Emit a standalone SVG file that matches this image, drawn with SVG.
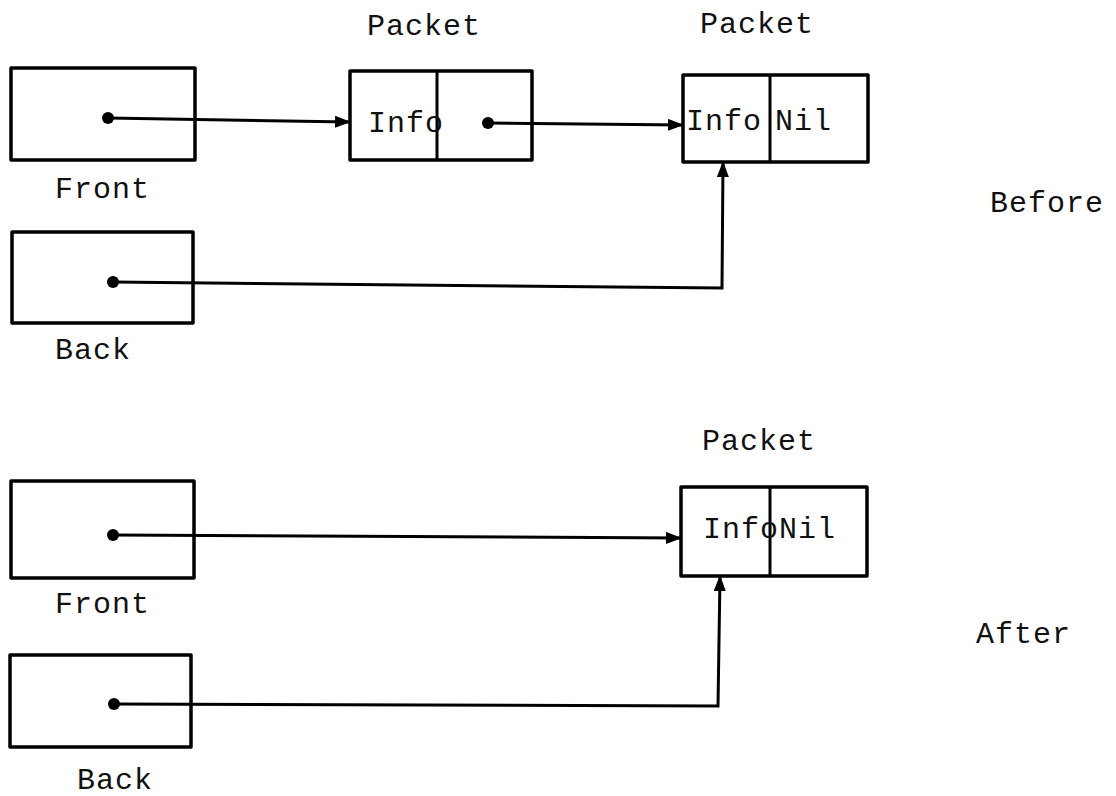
<svg xmlns="http://www.w3.org/2000/svg" width="1116" height="796" viewBox="0 0 1116 796">
  <style>
    .box { fill: none; stroke: #000; stroke-width: 3.5; stroke-linejoin: round; }
    .div { fill: none; stroke: #000; stroke-width: 3; }
    .link { fill: none; stroke: #000; stroke-width: 3; stroke-linejoin: miter; }
    .dot { fill: #000; }
    .lbl { font-family: "Liberation Mono", "Courier New", monospace; font-size: 30px; fill: #111; letter-spacing: 1px; }
  </style>
  <defs>
    <marker id="arrow" viewBox="0 0 16 12" refX="15" refY="6" markerWidth="16" markerHeight="12" markerUnits="userSpaceOnUse" orient="auto">
      <path d="M0,0 L16,6 L0,12 Z" fill="#000"/>
    </marker>
  </defs>

  <rect width="1116" height="796" fill="#fff"/>

  <!-- Before: queue with two packets -->
  <g id="before-front">
    <rect class="box" x="11" y="68" width="184" height="92"/>
    <circle class="dot" cx="108" cy="118" r="6"/>
    <text class="lbl" x="55" y="198">Front</text>
  </g>
  <g id="before-back">
    <rect class="box" x="12" y="232" width="181" height="91"/>
    <circle class="dot" cx="113" cy="282" r="6"/>
    <text class="lbl" x="55" y="359">Back</text>
  </g>
  <g id="before-packet1">
    <text class="lbl" x="367" y="35">Packet</text>
    <rect class="box" x="350" y="71" width="182" height="89"/>
    <line class="div" x1="437" y1="71" x2="437" y2="160"/>
    <text class="lbl" x="368" y="132">Info</text>
    <circle class="dot" cx="488" cy="123" r="6"/>
  </g>
  <g id="before-packet2">
    <text class="lbl" x="700" y="33">Packet</text>
    <rect class="box" x="683" y="75" width="185" height="87"/>
    <line class="div" x1="770" y1="75" x2="770" y2="162"/>
    <text class="lbl" x="686" y="130">Info</text>
    <text class="lbl" x="775" y="130">Nil</text>
  </g>
  <text id="before-caption" class="lbl" x="990" y="212">Before</text>

  <!-- After: queue with a single packet -->
  <g id="after-front">
    <rect class="box" x="11" y="481" width="183" height="97"/>
    <circle class="dot" cx="113" cy="535" r="6"/>
    <text class="lbl" x="55" y="613">Front</text>
  </g>
  <g id="after-back">
    <rect class="box" x="10" y="655" width="181" height="92"/>
    <circle class="dot" cx="114" cy="704" r="6"/>
    <text class="lbl" x="77" y="789">Back</text>
  </g>
  <g id="after-packet">
    <text class="lbl" x="702" y="450">Packet</text>
    <rect class="box" x="681" y="487" width="186" height="89"/>
    <line class="div" x1="770" y1="487" x2="770" y2="576"/>
    <text class="lbl" x="703" y="538">InfoNil</text>
  </g>
  <text id="after-caption" class="lbl" x="976" y="643">After</text>

  <!-- Pointer connectors -->
  <g id="connectors">
    <path class="link" d="M108,118 L350,122" marker-end="url(#arrow)"/>
    <path class="link" d="M488,123 L683,125" marker-end="url(#arrow)"/>
    <path class="link" d="M113,282 L722,288 L723,162" marker-end="url(#arrow)"/>
    <path class="link" d="M113,535 L681,538" marker-end="url(#arrow)"/>
    <path class="link" d="M114,704 L718,706 L720,576" marker-end="url(#arrow)"/>
  </g>
</svg>
